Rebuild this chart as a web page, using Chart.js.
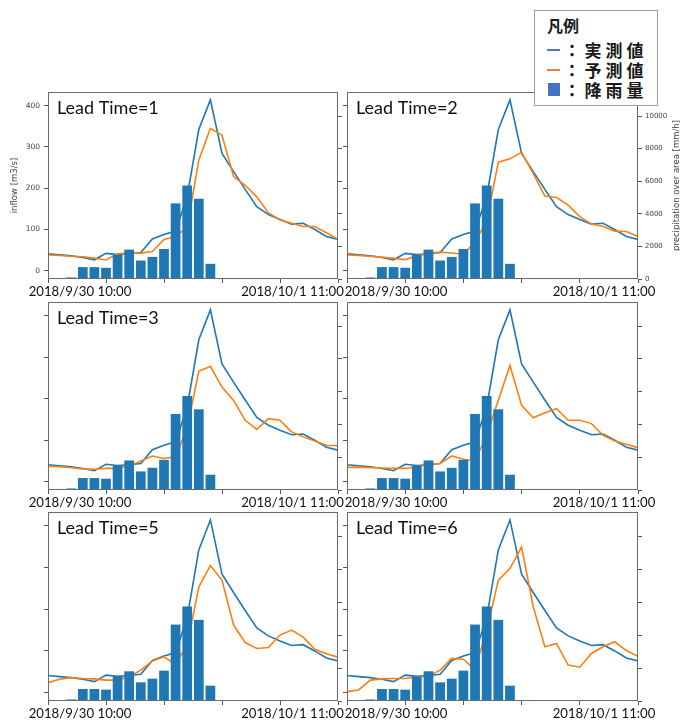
<!DOCTYPE html>
<html><head><meta charset="utf-8">
<script src="https://cdn.jsdelivr.net/npm/chart.js@4.4.1/dist/chart.umd.min.js"></script>
<style>
html,body{margin:0;padding:0;background:#fff;}
#wrap{position:relative;width:680px;height:722px;overflow:hidden;background:#fff;}
canvas{position:absolute;left:0;top:0;}
#legend{position:absolute;left:534px;top:10px;width:122px;height:94px;border:1px solid #a0a0a0;background:#fff;}
.lg{position:absolute;font-family:"Noto Sans CJK JP";font-weight:bold;color:#1a1a1a;white-space:nowrap;line-height:20px;}
.sw{position:absolute;}
</style></head><body>
<div id="wrap">
<canvas id="c0" width="680" height="722"></canvas>
<canvas id="c1" width="680" height="722"></canvas>
<canvas id="c2" width="680" height="722"></canvas>
<canvas id="c3" width="680" height="722"></canvas>
<canvas id="c4" width="680" height="722"></canvas>
<canvas id="c5" width="680" height="722"></canvas>
<div id="legend"></div>
<div class="lg" style="left:547px;top:15px;font-size:16px;">凡例</div>
<div class="sw" style="left:547px;top:49px;width:13px;height:1.6px;background:#4a78c6;"></div>
<div class="lg" style="left:563.5px;top:39.5px;font-size:17px;letter-spacing:4px;">：実測値</div>
<div class="sw" style="left:547px;top:69px;width:13px;height:1.6px;background:#ed7d31;"></div>
<div class="lg" style="left:563.5px;top:59.5px;font-size:17px;letter-spacing:4px;">：予測値</div>
<div class="sw" style="left:548px;top:83px;width:12px;height:13px;background:#4472c4;"></div>
<div class="lg" style="left:563.5px;top:79.5px;font-size:17px;letter-spacing:4px;">：降雨量</div>
</div>
<script>
// ---- data (hourly, hour 0 = 2018/9/30 10:00, hour 25 = 2018/10/1 11:00) ----
const hours = [0,1,2,3,4,5,6,7,8,9,10,11,12,13,14,15,16,17,18,19,20,21,22,23,24,25];
const rainfall = [0,25,95,730,730,690,1480,1805,1135,1357,1843,4643,5738,4928,931,20,0,0,0,0,0,0,0,0,0,0];
const observed = [41,38.5,36,32,26.5,42,39,41,44,77,88,96,180,342,414,284,240,197,155,136,124,113,115,100,83,76];
const predictedLT1 = [38.5,37,35,34,30.5,26,41,42.6,42.6,46.6,76,83,105,268,345,328,228,207,179,140,123,115,107,107,92,76];
const predictedLT2 = [38.5,37,35,33,30,27,36,42,45,43,40,70,120,263,271,287,235,181,177.5,159,131,113,107,96,95,83];
const predictedLT3 = [37.6,36,33.6,31,30,32,32,37.6,50,62,56,60,130,266,278,228,196,148,126,152,148,120,108,98,88,87];
const predictedLT4 = [34.4,35,34,33,32,32,36,42,44,62,54,50,112,196,280,184,154,166,176,148,148,140,112,98,90,82];
const predictedLT5 = [24,32,36,34,33,30,30,38,54,76,86,68,115,253,305,270,162,120,106,108,138,150,133,104,93,85];
const predictedLT6 = [2.4,6.4,30,33,34,34,37,40,54,82,80,55,150,269,298,349,206,110,118,66,61,94,110,122,101,87];
const predictedSeries = [predictedLT1,predictedLT2,predictedLT3,predictedLT4,predictedLT5,predictedLT6];
const panelTitles = ['Lead Time=1','Lead Time=2','Lead Time=3','','Lead Time=5','Lead Time=6'];
const hourTicks = [0,5,10,15,20,25];
const inflowTicks = [0,100,200,300,400];
const precipTicks = [0,2000,4000,6000,8000,10000];
const dateLabels = ['2018/9/30 10:00','2018/10/1 11:00'];

// ---- layout ----
const W = 680, H = 722, WL = 40, WR = 30, HX = 4, HXL = 24;
const panels = [
  {L:48, R:338, T:92,  B:279, anchors:[2.76,21.08]},
  {L:347,R:638, T:92,  B:279, anchors:[4.21,22.08]},
  {L:48, R:338, T:302, B:490, anchors:[2.76,21.08]},
  {L:347,R:638, T:302, B:490, anchors:[4.21,22.08]},
  {L:48, R:338, T:512, B:701, anchors:[2.76,21.08]},
  {L:347,R:638, T:512, B:701, anchors:[4.21,22.08]}
];

Chart.defaults.font.family = "'DejaVu Sans'";

const panelDecor = {
  id: 'panelDecor',
  afterDatasetsDraw(chart, args, opts) {
    const {ctx, chartArea: a} = chart;
    ctx.save();
    ctx.strokeStyle = '#6a6a6a';
    ctx.lineWidth = 1;
    ctx.strokeRect(Math.round(a.left) + 0.5, Math.round(a.top) + 0.5, Math.round(a.right - a.left) - 1, Math.round(a.bottom - a.top) - 1);
    if (opts.lead) {
      ctx.font = '18px Lato';
      ctx.fillStyle = '#111';
      ctx.textBaseline = 'alphabetic';
      ctx.textAlign = 'left';
      ctx.fillText(opts.lead, a.left + 9, a.top + 21.5);
    }
    if (opts.rightTitle) {
      ctx.translate(679, (a.top + a.bottom) / 2);
      ctx.rotate(-Math.PI / 2);
      ctx.textAlign = 'center';
      ctx.textBaseline = 'alphabetic';
      ctx.font = "8.5px 'DejaVu Sans'";
      ctx.fillStyle = '#444';
      ctx.fillText(opts.rightTitle, 0, 0);
    }
    ctx.restore();
  }
};

panels.forEach((p, i) => {
  const pts = arr => hours.map((h, k) => ({x: h, y: arr[k]}));
  new Chart(document.getElementById('c' + i), {
    type: 'bar',
    data: {
      datasets: [
        {type: 'bar', label: '降雨量', data: pts(rainfall), xAxisID: 'x', yAxisID: 'y2',
         backgroundColor: '#1f77b4', borderWidth: 0, barPercentage: 0.84, categoryPercentage: 1, order: 0},
        {type: 'line', label: '予測値', data: pts(predictedSeries[i]), xAxisID: 'x', yAxisID: 'y',
         borderColor: '#ff7f0e', borderWidth: 1.6, pointRadius: 0, tension: 0, fill: false, order: 1},
        {type: 'line', label: '実測値', data: pts(observed), xAxisID: 'x', yAxisID: 'y',
         borderColor: '#1f77b4', borderWidth: 1.6, pointRadius: 0, tension: 0, fill: false, order: 2}
      ]
    },
    plugins: [panelDecor],
    options: {
      responsive: false, animation: false, devicePixelRatio: 1,
      events: [],
      layout: {padding: {left: p.L - WL, right: W - p.R - WR, top: p.T, bottom: H - p.B - HX - HXL}},
      plugins: {
        legend: {display: false}, tooltip: {enabled: false},
        panelDecor: {lead: panelTitles[i], rightTitle: i === 1 ? 'precipitation over area [mm/h]' : ''}
      },
      scales: {
        x: {
          type: 'linear', position: 'bottom', min: 0, max: 25, offset: false,
          afterBuildTicks: s => { s.ticks = hourTicks.map(v => ({value: v})); },
          afterFit: s => { s.height = HX; },
          ticks: {display: false},
          grid: {display: true, drawOnChartArea: false, drawTicks: true, tickLength: 4, tickColor: '#555', offset: false},
          border: {display: false}
        },
        xl: {
          type: 'linear', position: 'bottom', min: 0, max: 25, offset: false,
          afterBuildTicks: s => { s.ticks = p.anchors.map(v => ({value: v})); },
          afterFit: s => { s.height = HXL; },
          ticks: {autoSkip: false, maxRotation: 0, minRotation: 0, padding: 1, color: '#111',
                  font: {family: 'Lato', size: 13.2},
                  callback: (v, k) => dateLabels[k]},
          grid: {display: false, drawTicks: false},
          border: {display: false}
        },
        y: {
          type: 'linear', position: 'left', min: -20, max: 433,
          afterBuildTicks: s => { s.ticks = inflowTicks.map(v => ({value: v})); },
          afterFit: s => { s.width = WL; },
          ticks: {display: i === 0, padding: 4, color: '#444', font: {size: 7.5}, callback: v => String(v)},
          title: {display: i === 0, text: 'inflow [m3/s]', color: '#444', font: {size: 8.5}, padding: {top: 2, bottom: 0}},
          grid: {display: true, drawOnChartArea: false, drawTicks: true, tickLength: 4, tickColor: '#555'},
          border: {display: false}
        },
        y2: {
          type: 'linear', position: 'right', min: 0, max: 11480,
          afterBuildTicks: s => { s.ticks = precipTicks.map(v => ({value: v})); },
          afterFit: s => { s.width = WR; },
          ticks: {display: i === 1, padding: 3, color: '#444', font: {size: 7}, callback: v => String(v)},
          grid: {display: true, drawOnChartArea: false, drawTicks: true, tickLength: 4, tickColor: '#555'},
          border: {display: false}
        }
      }
    }
  });
});
</script>
</body></html>
